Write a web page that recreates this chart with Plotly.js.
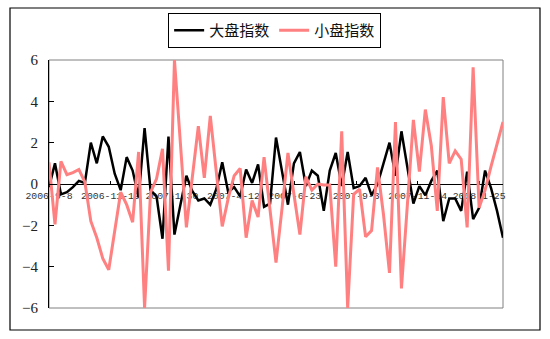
<!DOCTYPE html>
<html>
<head>
<meta charset="utf-8">
<script src="https://cdn.plot.ly/plotly-3.0.1.min.js"></script>
<style>html,body{margin:0;padding:0;background:#fff;}#chart{width:550px;height:339px;}</style>
</head>
<body>
<div id="chart"></div>
<script>
const dates = [
'2006-09-08','2006-09-15','2006-09-22','2006-09-29','2006-10-06','2006-10-13','2006-10-20','2006-10-27',
'2006-11-03','2006-11-10','2006-11-17','2006-11-24','2006-12-01','2006-12-08','2006-12-15','2006-12-22','2006-12-29',
'2007-01-05','2007-01-12','2007-01-19','2007-01-26','2007-02-02','2007-02-09','2007-02-16','2007-02-23',
'2007-03-02','2007-03-09','2007-03-16','2007-03-23','2007-03-30','2007-04-06','2007-04-13','2007-04-20','2007-04-27',
'2007-05-04','2007-05-11','2007-05-18','2007-05-25','2007-06-01','2007-06-08','2007-06-15','2007-06-22','2007-06-29',
'2007-07-06','2007-07-13','2007-07-20','2007-07-27','2007-08-03','2007-08-10','2007-08-17','2007-08-24','2007-08-31',
'2007-09-07','2007-09-14','2007-09-21','2007-09-28','2007-10-05','2007-10-12','2007-10-19','2007-10-26',
'2007-11-02','2007-11-09','2007-11-16','2007-11-23','2007-11-30','2007-12-07','2007-12-14','2007-12-21','2007-12-28',
'2008-01-04','2008-01-11','2008-01-18','2008-01-25','2008-02-01','2008-02-08','2008-02-15','2008-02-22'
];

const bigCap = [
-0.15, 1.0, -0.5, -0.4, -0.15, 0.15, 0.05, 2.0, 1.0, 2.3,
1.8, 0.5, -0.3, 1.3, 0.65, -0.65, 2.7, -0.3, -0.6, -2.65,
2.3, -2.45, -1.0, 0.4, -0.35, -0.8, -0.7, -1.0, -0.25, 1.05,
-0.4, -0.15, -0.6, 0.7, 0.05, 0.95, -1.1, -0.95, 2.25, 0.6,
-1.0, 1.0, 1.55, -0.1, 0.65, 0.4, -1.3, 0.65, 1.5, -0.1,
1.55, -0.2, -0.1, 0.3, -0.55, 0.0, 0.95, 2.0, 0.4, 2.55,
0.8, -0.95, -0.1, -0.55, 0.15, 0.65, -1.8, -0.7, -0.7, -1.3,
0.6, -1.7, -1.15, 0.65, -0.2, -1.3, -2.6
];

const smallCap = [
1.05, -1.95, 1.1, 0.45, 0.55, 0.7, 0.1, -1.8, -2.6, -3.6,
-4.15, -2.35, -0.4, -1.0, -1.85, 1.55, -6.0, -0.4, 0.25, 1.7,
-4.2, 6.0, 1.8, -2.1, 0.35, 2.8, 0.3, 3.3, 0.6, -2.05,
-0.7, 0.4, 0.75, -2.6, -0.8, -1.6, 1.3, -1.2, -3.8, -1.2,
1.5, -0.5, -2.45, 0.35, -0.3, 0.0, -0.05, -0.05, -4.0, 2.55,
-6.0, -0.5, -0.25, -2.55, -2.25, 0.8, -1.5, -4.3, 3.0, -5.05,
-0.9, 3.1, 0.6, 3.6, 1.85, -1.3, 4.2, 1.0, 1.6, 1.2,
-2.1, 5.65, -1.15, -0.3, 0.85, 1.9, 3.0
];

const seriesNames = ['大盘指数', '小盘指数'];
const tickDates = ['2006-09-08','2006-11-19','2007-01-30','2007-04-12','2007-06-23','2007-09-03','2007-11-14','2008-01-25'];
const tickLabels = ['2006-9-8','2006-11-19','2007-1-30','2007-4-12','2007-6-23','2007-9-3','2007-11-14','2008-1-25'];
const yTicks = [-6, -4, -2, 0, 2, 4, 6];

const traces = [
  {x: dates, y: bigCap, name: seriesNames[0], type: 'scatter', mode: 'lines',
   line: {color: '#000000', width: 2.5}},
  {x: dates, y: smallCap, name: seriesNames[1], type: 'scatter', mode: 'lines',
   line: {color: '#FF8080', width: 3}}
];

const layout = {
  width: 550, height: 339,
  margin: {l: 49, r: 47, t: 60, b: 31},
  paper_bgcolor: '#ffffff', plot_bgcolor: '#ffffff',
  showlegend: true,
  legend: {
    orientation: 'h', x: 0.497, xanchor: 'center', y: 1.19, yanchor: 'top',
    bordercolor: '#000000', borderwidth: 1, bgcolor: '#ffffff',
    font: {family: '"Noto Sans CJK SC", sans-serif', size: 15, color: '#111'},
    itemwidth: 30, tracegroupgap: 0
  },
  xaxis: {
    type: 'date', range: [dates[0], dates[dates.length - 1]],
    anchor: 'free', position: 0.5,
    showline: true, linecolor: '#000000', linewidth: 1,
    ticks: 'inside', ticklen: 3, tickcolor: '#000000',
    tickvals: tickDates, ticktext: tickLabels,
    tickfont: {family: '"Liberation Mono", monospace', size: 9.8, color: '#333'},
    ticklabelstandoff: 2,
    showgrid: false, zeroline: false, layer: 'below traces', fixedrange: true
  },
  yaxis: {
    range: [-6, 6], tickvals: yTicks,
    showline: true, linecolor: '#000000', linewidth: 1,
    ticks: 'inside', ticklen: 5, tickcolor: '#000000',
    tickfont: {family: '"Liberation Serif", serif', size: 15, color: '#222'},
    ticklabelstandoff: 7,
    showgrid: false, zeroline: false, fixedrange: true
  },
  shapes: [
    {type: 'rect', xref: 'paper', yref: 'paper', x0: 0, x1: 1, y0: 0, y1: 1,
     line: {color: '#808080', width: 1}, layer: 'below'},
    {type: 'rect', xref: 'paper', yref: 'paper',
     x0: (10 - 49) / 454, x1: (540 - 49) / 454, y0: (308 - 330) / 248, y1: (308 - 8) / 248,
     line: {color: '#000000', width: 1.2}, layer: 'below'}
  ]
};

Plotly.newPlot('chart', traces, layout, {staticPlot: true, displayModeBar: false});
</script>
</body>
</html>
